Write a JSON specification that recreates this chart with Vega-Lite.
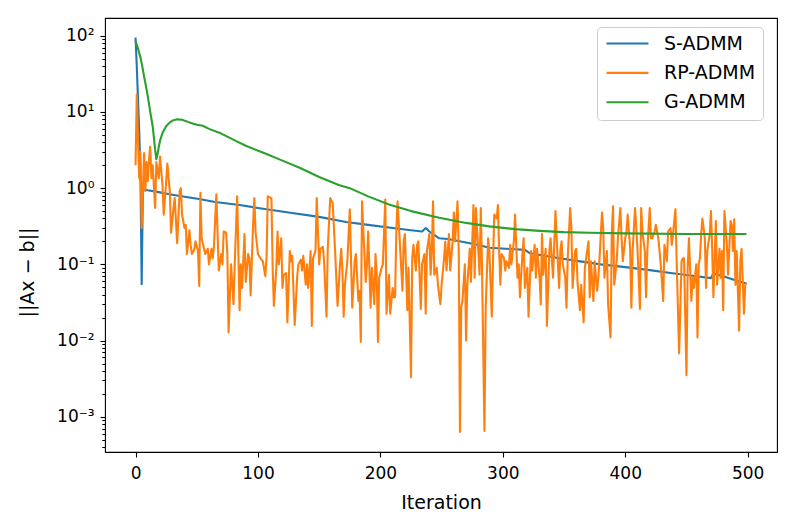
{
  "$schema": "https://vega.github.io/schema/vega-lite/v6.json",
  "width": 672,
  "height": 434,
  "autosize": {"type": "none"},
  "padding": {"left": 105, "top": 18, "right": 16, "bottom": 75},
  "background": "white",
  "config": {
    "view": {"stroke": "#000000", "strokeWidth": 1.1},
    "font": "DejaVu Sans",
    "axis": {"domain": false, "grid": false, "tickColor": "#000000", "labelColor": "#000000", "titleColor": "#000000", "labelFont": "DejaVu Sans", "titleFont": "DejaVu Sans", "titleFontWeight": "normal", "tickWidth": 1.1, "labelOverlap": false}
  },
  "resolve": {"axis": {"y": "independent"}},
  "datasets": {
    "sadmm": [
      {"i": 0, "v": 95}, {"i": 1, "v": 40}, {"i": 2, "v": 15}, {"i": 3, "v": 5.5}, {"i": 4, "v": 1.6}, {"i": 5, "v": 0.055},
      {"i": 6, "v": 0.97}, {"i": 10, "v": 0.94}, {"i": 20, "v": 0.88}, {"i": 30, "v": 0.82}, {"i": 40, "v": 0.77}, {"i": 52, "v": 0.72},
      {"i": 65, "v": 0.66}, {"i": 85, "v": 0.6}, {"i": 100, "v": 0.55}, {"i": 125, "v": 0.48}, {"i": 150, "v": 0.42}, {"i": 172, "v": 0.36},
      {"i": 190, "v": 0.33}, {"i": 210, "v": 0.3}, {"i": 225, "v": 0.28}, {"i": 234, "v": 0.27}, {"i": 237, "v": 0.3}, {"i": 240, "v": 0.27},
      {"i": 248, "v": 0.22}, {"i": 255, "v": 0.215}, {"i": 269, "v": 0.195}, {"i": 280, "v": 0.18}, {"i": 289, "v": 0.165}, {"i": 310, "v": 0.158},
      {"i": 318, "v": 0.155}, {"i": 322, "v": 0.14}, {"i": 340, "v": 0.125}, {"i": 359, "v": 0.112}, {"i": 380, "v": 0.1}, {"i": 400, "v": 0.092},
      {"i": 420, "v": 0.084}, {"i": 437, "v": 0.077}, {"i": 455, "v": 0.071}, {"i": 470, "v": 0.066}, {"i": 472, "v": 0.076}, {"i": 480, "v": 0.07},
      {"i": 490, "v": 0.062}, {"i": 499, "v": 0.056}
    ],
    "rpadmm": [
      {"i":0,"v":2.0},{"i":1,"v":17},{"i":2,"v":4.5},{"i":3,"v":1.35},{"i":4,"v":3.0},{"i":5,"v":0.3},{"i":7,"v":2.9},{"i":8,"v":0.91},{"i":9,"v":2.2},{"i":10,"v":1.23},
      {"i":11,"v":2.35},{"i":12,"v":3.5},{"i":13,"v":1.35},{"i":14,"v":2.0},{"i":16,"v":0.55},{"i":17,"v":2.2},{"i":19,"v":1.35},{"i":20,"v":2.6},{"i":22,"v":1.1},{"i":23,"v":0.45},
      {"i":25,"v":1.2},{"i":26,"v":2.1},{"i":28,"v":0.91},{"i":29,"v":0.26},{"i":31,"v":0.55},{"i":32,"v":0.74},{"i":34,"v":0.19},{"i":36,"v":0.91},{"i":37,"v":1.0},{"i":38,"v":0.45},
      {"i":40,"v":0.3},{"i":41,"v":0.33},{"i":42,"v":0.137},{"i":44,"v":0.28},{"i":45,"v":0.18},{"i":46,"v":0.137},{"i":48,"v":0.157},{"i":49,"v":0.2},{"i":51,"v":0.15},{"i":52,"v":0.052},
      {"i":53,"v":0.87},{"i":54,"v":0.22},{"i":56,"v":0.16},{"i":57,"v":0.137},{"i":59,"v":0.16},{"i":60,"v":0.1},{"i":62,"v":0.16},{"i":63,"v":0.12},{"i":64,"v":0.17},{"i":66,"v":0.83},
      {"i":68,"v":0.083},{"i":70,"v":0.137},{"i":71,"v":0.1},{"i":72,"v":0.27},{"i":74,"v":0.26},{"i":75,"v":0.137},{"i":76,"v":0.0128},{"i":78,"v":0.1},{"i":80,"v":0.03},{"i":81,"v":0.1},
      {"i":83,"v":0.78},{"i":85,"v":0.025},{"i":86,"v":0.1},{"i":87,"v":0.049},{"i":89,"v":0.25},{"i":90,"v":0.059},{"i":92,"v":0.137},{"i":93,"v":0.12},{"i":94,"v":0.039},{"i":96,"v":0.33},
      {"i":97,"v":0.74},{"i":98,"v":0.27},{"i":100,"v":0.137},{"i":102,"v":0.12},{"i":104,"v":0.11},{"i":106,"v":0.07},{"i":107,"v":0.12},{"i":108,"v":0.78},{"i":111,"v":0.74},{"i":112,"v":0.09},
      {"i":113,"v":0.0285},{"i":115,"v":0.09},{"i":116,"v":0.27},{"i":117,"v":0.1},{"i":119,"v":0.22},{"i":120,"v":0.049},{"i":121,"v":0.073},{"i":123,"v":0.077},{"i":124,"v":0.0173},{"i":126,"v":0.15},
      {"i":127,"v":0.11},{"i":128,"v":0.13},{"i":130,"v":0.016},{"i":132,"v":0.067},{"i":133,"v":0.1},{"i":135,"v":0.115},{"i":136,"v":0.083},{"i":137,"v":0.13},{"i":139,"v":0.054},{"i":140,"v":0.1},
      {"i":141,"v":0.049},{"i":143,"v":0.15},{"i":144,"v":0.0156},{"i":145,"v":0.12},{"i":147,"v":0.15},{"i":148,"v":0.74},{"i":150,"v":0.1},{"i":151,"v":0.16},{"i":153,"v":0.17},{"i":154,"v":0.11},
      {"i":156,"v":0.0205},{"i":157,"v":0.16},{"i":159,"v":0.74},{"i":161,"v":0.64},{"i":163,"v":0.15},{"i":165,"v":0.0285},{"i":167,"v":0.1},{"i":168,"v":0.16},{"i":169,"v":0.083},{"i":170,"v":0.0205},
      {"i":171,"v":0.054},{"i":173,"v":0.11},{"i":175,"v":0.53},{"i":177,"v":0.027},{"i":179,"v":0.11},{"i":180,"v":0.137},{"i":182,"v":0.033},{"i":183,"v":0.045},{"i":184,"v":0.0096},{"i":185,"v":0.67},
      {"i":186,"v":0.3},{"i":188,"v":0.059},{"i":189,"v":0.1},{"i":190,"v":0.27},{"i":192,"v":0.027},{"i":193,"v":0.09},{"i":195,"v":0.03},{"i":196,"v":0.137},{"i":197,"v":0.073},{"i":198,"v":0.0096},
      {"i":199,"v":0.067},{"i":201,"v":0.09},{"i":202,"v":0.1},{"i":203,"v":0.27},{"i":204,"v":0.71},{"i":205,"v":0.0225},{"i":207,"v":0.073},{"i":208,"v":0.0225},{"i":210,"v":0.049},{"i":211,"v":0.037},
      {"i":212,"v":0.037},{"i":213,"v":0.27},{"i":214,"v":0.67},{"i":216,"v":0.18},{"i":217,"v":0.09},{"i":218,"v":0.045},{"i":219,"v":0.2},{"i":220,"v":0.25},{"i":222,"v":0.025},{"i":223,"v":0.09},
      {"i":225,"v":0.0033},{"i":226,"v":0.12},{"i":227,"v":0.18},{"i":229,"v":0.083},{"i":230,"v":0.18},{"i":231,"v":0.2},{"i":233,"v":0.026},{"i":234,"v":0.1},{"i":236,"v":0.137},{"i":237,"v":0.0225},
      {"i":238,"v":0.15},{"i":240,"v":0.25},{"i":241,"v":0.073},{"i":242,"v":0.15},{"i":243,"v":0.67},{"i":244,"v":0.073},{"i":246,"v":0.09},{"i":247,"v":0.054},{"i":249,"v":0.03},{"i":250,"v":0.054},
      {"i":252,"v":0.12},{"i":253,"v":0.2},{"i":254,"v":0.083},{"i":256,"v":0.25},{"i":257,"v":0.083},{"i":259,"v":0.2},{"i":260,"v":0.48},{"i":261,"v":0.2},{"i":263,"v":0.67},{"i":264,"v":0.15},
      {"i":265,"v":0.00063},{"i":266,"v":0.027},{"i":267,"v":0.033},{"i":269,"v":0.1},{"i":270,"v":0.01},{"i":271,"v":0.054},{"i":273,"v":0.16},{"i":274,"v":0.059},{"i":276,"v":0.6},{"i":277,"v":0.067},
      {"i":278,"v":0.55},{"i":280,"v":0.15},{"i":281,"v":0.073},{"i":282,"v":0.55},{"i":283,"v":0.09},{"i":285,"v":0.00065},{"i":286,"v":0.027},{"i":288,"v":0.22},{"i":289,"v":0.15},{"i":291,"v":0.0205},
      {"i":292,"v":0.11},{"i":293,"v":0.45},{"i":295,"v":0.4},{"i":296,"v":0.6},{"i":297,"v":0.15},{"i":298,"v":0.054},{"i":299,"v":0.137},{"i":301,"v":0.12},{"i":302,"v":0.083},{"i":303,"v":0.11},
      {"i":305,"v":0.09},{"i":306,"v":0.18},{"i":307,"v":0.1},{"i":309,"v":0.2},{"i":310,"v":0.45},{"i":312,"v":0.067},{"i":313,"v":0.1},{"i":314,"v":0.037},{"i":316,"v":0.137},{"i":317,"v":0.22},
      {"i":318,"v":0.049},{"i":320,"v":0.09},{"i":321,"v":0.0205},{"i":323,"v":0.15},{"i":324,"v":0.083},{"i":326,"v":0.18},{"i":327,"v":0.067},{"i":328,"v":0.16},{"i":330,"v":0.067},{"i":331,"v":0.03},
      {"i":332,"v":0.25},{"i":333,"v":0.073},{"i":335,"v":0.16},{"i":336,"v":0.0156},{"i":338,"v":0.15},{"i":339,"v":0.22},{"i":341,"v":0.067},{"i":342,"v":0.18},{"i":343,"v":0.5},{"i":344,"v":0.22},
      {"i":346,"v":0.049},{"i":347,"v":0.15},{"i":348,"v":0.2},{"i":349,"v":0.1},{"i":351,"v":0.067},{"i":352,"v":0.027},{"i":353,"v":0.12},{"i":355,"v":0.55},{"i":356,"v":0.3},{"i":357,"v":0.049},
      {"i":359,"v":0.15},{"i":360,"v":0.16},{"i":361,"v":0.059},{"i":363,"v":0.025},{"i":364,"v":0.054},{"i":366,"v":0.0173},{"i":367,"v":0.09},{"i":368,"v":0.12},{"i":370,"v":0.2},{"i":371,"v":0.037},
      {"i":372,"v":0.11},{"i":374,"v":0.033},{"i":375,"v":0.11},{"i":377,"v":0.045},{"i":378,"v":0.067},{"i":379,"v":0.12},{"i":381,"v":0.48},{"i":382,"v":0.3},{"i":383,"v":0.067},{"i":385,"v":0.15},
      {"i":386,"v":0.03},{"i":388,"v":0.011},{"i":389,"v":0.25},{"i":390,"v":0.58},{"i":391,"v":0.054},{"i":393,"v":0.11},{"i":394,"v":0.22},{"i":396,"v":0.55},{"i":397,"v":0.22},{"i":398,"v":0.11},
      {"i":400,"v":0.22},{"i":401,"v":0.27},{"i":402,"v":0.45},{"i":404,"v":0.16},{"i":405,"v":0.027},{"i":406,"v":0.15},{"i":408,"v":0.55},{"i":409,"v":0.3},{"i":410,"v":0.16},{"i":412,"v":0.026},
      {"i":413,"v":0.55},{"i":414,"v":0.27},{"i":416,"v":0.15},{"i":417,"v":0.037},{"i":418,"v":0.15},{"i":420,"v":0.55},{"i":421,"v":0.22},{"i":422,"v":0.22},{"i":424,"v":0.27},{"i":425,"v":0.33},
      {"i":427,"v":0.22},{"i":428,"v":0.15},{"i":429,"v":0.1},{"i":431,"v":0.033},{"i":432,"v":0.18},{"i":434,"v":0.11},{"i":435,"v":0.27},{"i":437,"v":0.3},{"i":438,"v":0.18},{"i":439,"v":0.25},
      {"i":441,"v":0.53},{"i":442,"v":0.11},{"i":444,"v":0.0068},{"i":446,"v":0.11},{"i":447,"v":0.12},{"i":448,"v":0.12},{"i":450,"v":0.0035},{"i":451,"v":0.09},{"i":452,"v":0.22},{"i":454,"v":0.033},
      {"i":455,"v":0.067},{"i":456,"v":0.049},{"i":458,"v":0.1},{"i":459,"v":0.011},{"i":460,"v":0.1},{"i":461,"v":0.12},{"i":462,"v":0.25},{"i":463,"v":0.4},{"i":465,"v":0.22},{"i":466,"v":0.049},
      {"i":467,"v":0.15},{"i":469,"v":0.25},{"i":470,"v":0.5},{"i":471,"v":0.16},{"i":472,"v":0.037},{"i":474,"v":0.37},{"i":475,"v":0.054},{"i":477,"v":0.16},{"i":478,"v":0.067},{"i":479,"v":0.15},
      {"i":480,"v":0.025},{"i":481,"v":0.5},{"i":483,"v":0.18},{"i":484,"v":0.073},{"i":486,"v":0.37},{"i":487,"v":0.33},{"i":488,"v":0.15},{"i":489,"v":0.39},{"i":490,"v":0.054},{"i":491,"v":0.15},
      {"i":493,"v":0.0135},{"i":494,"v":0.11},{"i":495,"v":0.16},{"i":497,"v":0.0225},{"i":498,"v":0.054},{"i":499,"v":0.058}
    ],
    "gadmm": [
      {"i": 0, "v": 85}, {"i": 2, "v": 68}, {"i": 4, "v": 52}, {"i": 6, "v": 36}, {"i": 7, "v": 29}, {"i": 8, "v": 24}, {"i": 10, "v": 16}, {"i": 12, "v": 10},
      {"i": 14, "v": 6.5}, {"i": 15, "v": 4.6}, {"i": 16, "v": 3.2}, {"i": 17, "v": 2.4}, {"i": 18, "v": 2.8}, {"i": 19, "v": 3.5}, {"i": 20, "v": 4.2}, {"i": 22, "v": 5.3},
      {"i": 25, "v": 6.5}, {"i": 28, "v": 7.3}, {"i": 31, "v": 7.8}, {"i": 34, "v": 8.0}, {"i": 38, "v": 7.9}, {"i": 44, "v": 7.3}, {"i": 50, "v": 6.8}, {"i": 55, "v": 6.6},
      {"i": 60, "v": 6.0}, {"i": 70, "v": 5.2}, {"i": 79, "v": 4.4}, {"i": 90, "v": 3.6}, {"i": 107, "v": 2.8}, {"i": 120, "v": 2.3}, {"i": 134, "v": 1.85}, {"i": 150, "v": 1.4},
      {"i": 166, "v": 1.1}, {"i": 175, "v": 1.0}, {"i": 190, "v": 0.78}, {"i": 207, "v": 0.61}, {"i": 225, "v": 0.5}, {"i": 248, "v": 0.41}, {"i": 270, "v": 0.35}, {"i": 289, "v": 0.315},
      {"i": 310, "v": 0.29}, {"i": 330, "v": 0.275}, {"i": 350, "v": 0.265}, {"i": 371, "v": 0.26}, {"i": 400, "v": 0.255}, {"i": 450, "v": 0.25}, {"i": 499, "v": 0.25}
    ]
  },
  "encoding": {
    "x": {
      "field": "i", "type": "quantitative",
      "scale": {"domain": [-24.95, 523.95], "nice": false, "zero": false},
      "axis": {"values": [0, 100, 200, 300, 400, 500], "tickSize": 5, "labelFontSize": 17, "labelPadding": 8, "labelFlush": false,
               "title": "Iteration", "titleFontSize": 19, "titleX": 336, "titleY": 50, "titleBaseline": "middle", "titleAlign": "center"}
    }
  },
  "layer": [
    {
      "data": {"name": "sadmm"},
      "mark": {"type": "line", "strokeWidth": 2.1, "strokeJoin": "round"},
      "encoding": {
        "y": {
          "field": "v", "type": "quantitative",
          "scale": {"type": "log", "domain": [0.000345, 171], "nice": false},
          "axis": {
            "orient": "left",
            "values": [0.001, 0.01, 0.1, 1, 10, 100],
            "tickSize": 5,
            "labelExpr": "'10' + ['⁻³', '⁻²', '⁻¹', '⁰', '¹', '²'][round(log(datum.value) / LN10) + 3]",
            "labelFontSize": 17, "labelPadding": 6,
            "title": "||Ax − b||", "titleFontSize": 19, "titleX": -78, "titleY": 254, "titleAngle": -90, "titleBaseline": "middle", "titleAlign": "center"
          }
        },
        "color": {
          "datum": "S-ADMM",
          "scale": {"domain": ["S-ADMM", "RP-ADMM", "G-ADMM"], "range": ["#1f77b4", "#ff7f0e", "#2ca02c"]},
          "legend": {"title": null, "orient": "none", "legendX": 492, "legendY": 9, "symbolType": "M-1,0H5", "symbolSize": 196, "symbolStrokeWidth": 2.1,
                     "labelFontSize": 19, "labelFont": "DejaVu Sans", "labelColor": "#000000", "labelOffset": 41, "rowPadding": 9.4, "padding": 7,
                     "fillColor": "rgba(255,255,255,0.8)", "strokeColor": "#cccccc", "cornerRadius": 4}
        }
      }
    },
    {
      "data": {"name": "rpadmm"},
      "mark": {"type": "line", "strokeWidth": 2.1, "strokeJoin": "round"},
      "encoding": {
        "y": {"field": "v", "type": "quantitative", "axis": null},
        "color": {"datum": "RP-ADMM"}
      }
    },
    {
      "data": {"name": "gadmm"},
      "mark": {"type": "line", "strokeWidth": 2.1, "strokeJoin": "round"},
      "encoding": {
        "y": {
          "field": "v", "type": "quantitative",
          "axis": {
            "orient": "left",
            "values": [0.0004, 0.0005, 0.0006, 0.0007, 0.0008, 0.0009, 0.002, 0.003, 0.004, 0.005, 0.006, 0.007, 0.008, 0.009, 0.02, 0.03, 0.04, 0.05, 0.06, 0.07, 0.08, 0.09, 0.2, 0.3, 0.4, 0.5, 0.6, 0.7, 0.8, 0.9, 2, 3, 4, 5, 6, 7, 8, 9, 20, 30, 40, 50, 60, 70, 80, 90],
            "tickSize": 3.2, "tickColor": "#000000", "tickWidth": 1, "labels": false, "title": null, "offset": 0
          }
        },
        "color": {"datum": "G-ADMM"}
      }
    }
  ]
}
